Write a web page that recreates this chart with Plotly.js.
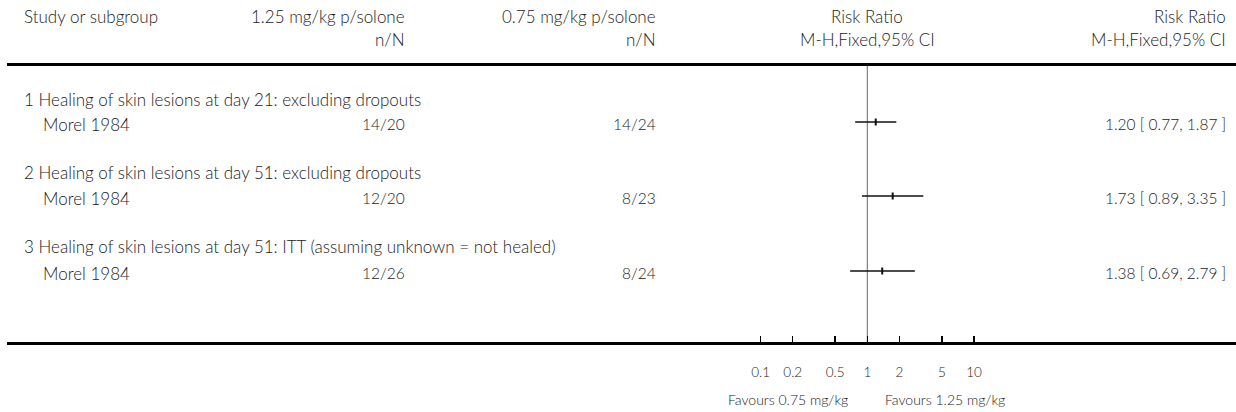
<!DOCTYPE html>
<html>
<head>
<meta charset="utf-8">
<script src="https://cdn.plot.ly/plotly-3.0.1.min.js"></script>
<style>
html,body{margin:0;padding:0;background:#fff;}
#chart{width:1236px;height:412px;}
</style>
</head>
<body>
<div id="chart"></div>
<script>
// ---- data ----
var subgroups = [
  "1 Healing of skin lesions at day 21: excluding dropouts",
  "2 Healing of skin lesions at day 51: excluding dropouts",
  "3 Healing of skin lesions at day 51: ITT (assuming unknown = not healed)"
];
var studies = ["Morel 1984", "Morel 1984", "Morel 1984"];
var treatN = ["14/20", "12/20", "12/26"];
var controlN = ["14/24", "8/23", "8/24"];
var rr = [1.20, 1.73, 1.38];
var ciLow = [0.77, 0.89, 0.69];
var ciHigh = [1.87, 3.35, 2.79];
var tickVals = [0.1, 0.2, 0.5, 1, 2, 5, 10];
var tickText = ["0.1", "0.2", "0.5", "1", "2", "5", "10"];
var headers1 = ["Study or subgroup", "1.25 mg/kg p/solone", "0.75 mg/kg p/solone", "Risk Ratio", "Risk Ratio"];
var headers2 = ["", "n/N", "n/N", "M-H,Fixed,95% CI", "M-H,Fixed,95% CI"];
var favours = ["Favours 0.75 mg/kg", "Favours 1.25 mg/kg"];

// ---- layout geometry (pixels) ----
var W = 1236, H = 412, L = 7;
var plotW = W - L;
function px(x) { return (x - L) / plotW; }
var centerPx = 867.3, decadePx = 106.7;
var r0 = -(centerPx - L) / decadePx, r1 = (W - centerPx) / decadePx;
var subY = [99, 172, 246];
var rowY = [122, 196, 271];
var topLineY = 64.5, axisY = 343;

var FONT = "Lato, 'Open Sans', sans-serif";
var TXT = "#222";

var traces = [];
// vertical line of no effect
traces.push({x: [1, 1], y: [topLineY, axisY], mode: "lines", line: {color: "#666", width: 1}, hoverinfo: "skip", showlegend: false});
// CI lines
for (var i = 0; i < rr.length; i++) {
  traces.push({x: [ciLow[i], ciHigh[i]], y: [rowY[i], rowY[i]], mode: "lines", line: {color: "#111", width: 1.5}, hoverinfo: "skip", showlegend: false});
}
// point estimates
traces.push({x: rr, y: rowY, mode: "markers", marker: {symbol: "line-ns", size: 5, line: {color: "#111", width: 2}}, hoverinfo: "skip", showlegend: false});

var ann = [];
function t(text, x, y, anchor, size) {
  ann.push({text: text, xref: "paper", yref: "y", x: px(x), y: y, xanchor: anchor, yanchor: "middle", showarrow: false, font: {family: FONT, size: size || 17, color: TXT, weight: 300}});
}
// headers
var hx = [22, 407, 658, 867, 1228];
var ha = ["left", "right", "right", "center", "right"];
for (var j = 0; j < headers1.length; j++) {
  t(headers1[j], hx[j], 16, ha[j]);
  if (headers2[j]) t(headers2[j], hx[j], 39, ha[j]);
}
for (var k = 0; k < subgroups.length; k++) {
  t(subgroups[k], 22, subY[k], "left");
  t(studies[k], 41, rowY[k] + 2, "left");
  t(treatN[k], 407, rowY[k] + 2, "right", 15.5);
  t(controlN[k], 658, rowY[k] + 2, "right", 15.5);
  t(rr[k].toFixed(2) + " [ " + ciLow[k].toFixed(2) + ", " + ciHigh[k].toFixed(2) + " ]", 1228, rowY[k] + 2, "right", 15.5);
}
t(favours[0], centerPx - 17, 399, "right", 14);
t(favours[1], centerPx + 16, 399, "left", 14);

var layout = {
  width: W, height: H,
  margin: {l: L, r: 0, t: 0, b: 0, pad: 0},
  paper_bgcolor: "#fff", plot_bgcolor: "#fff",
  showlegend: false,
  xaxis: {
    type: "log", range: [r0, r1], anchor: "free", position: 1 - axisY / H,
    showline: true, linecolor: "#000", linewidth: 3,
    ticks: "inside", ticklen: 6, tickwidth: 1.5, tickcolor: "#000",
    tickvals: tickVals, ticktext: tickText,
    tickfont: {family: FONT, size: 13.5, color: TXT, weight: 300},
    ticklabelstandoff: 16,
    showgrid: false, zeroline: false, fixedrange: true
  },
  yaxis: {range: [H, 0], visible: false, showgrid: false, zeroline: false, fixedrange: true},
  shapes: [
    {type: "line", xref: "paper", yref: "y", x0: 0, x1: 1, y0: topLineY, y1: topLineY, line: {color: "#000", width: 3}}
  ],
  annotations: ann
};
Plotly.newPlot("chart", traces, layout, {staticPlot: true, displayModeBar: false});
</script>
</body>
</html>
